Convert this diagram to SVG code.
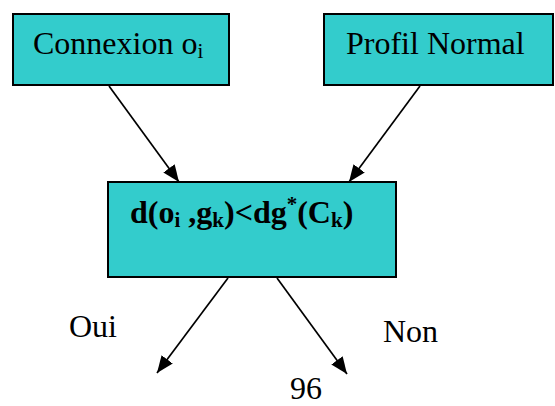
<svg xmlns="http://www.w3.org/2000/svg" width="555" height="406" viewBox="0 0 555 406">
<style>
.box{fill:#33CCCC;stroke:#000;stroke-width:2}
.t{font-family:'Liberation Serif','Times New Roman','DejaVu Serif',serif;font-size:32px;fill:#000}
.b{font-weight:bold}
.c{stroke:#000;stroke-width:1.7;fill:none;marker-end:url(#ah)}
</style>
<defs>
<marker id="ah" markerUnits="userSpaceOnUse" markerWidth="18" markerHeight="14" refX="17" refY="7" orient="auto">
<path d="M0,0 L17,7 L0,14 Z" fill="#000"/>
</marker>
</defs>
<rect width="555" height="406" fill="#fff"/>
<g id="connectors">
<line class="c" x1="109" y1="86" x2="179" y2="182"/>
<line class="c" x1="420" y1="86" x2="349" y2="182"/>
<line class="c" x1="228" y1="278" x2="157" y2="373"/>
<line class="c" x1="277" y1="278" x2="347" y2="374"/>
</g>
<g id="n1">
<rect class="box" x="13" y="14" width="216" height="71"/>
<text class="t" x="33" y="54">Connexion o<tspan font-size="21" dy="4">i</tspan></text>
</g>
<g id="n2">
<rect class="box" x="324" y="14" width="229" height="71"/>
<text class="t" x="346" y="54">Profil Normal</text>
</g>
<g id="n3">
<rect class="box" x="108" y="182" width="288" height="95"/>
<text class="t b" x="130" y="223">d(o<tspan font-size="21" dy="4">i</tspan><tspan dy="-4"> ,g</tspan><tspan font-size="21" dy="4">k</tspan><tspan dy="-4">)&lt;dg</tspan><tspan font-size="21" dy="-12">*</tspan><tspan dy="12">(C</tspan><tspan font-size="21" dy="4">k</tspan><tspan dy="-4">)</tspan></text>
</g>
<g id="labels">
<text class="t" x="69" y="337">Oui</text>
<text class="t" x="383" y="342">Non</text>
<text class="t" x="290" y="399">96</text>
</g>
</svg>
